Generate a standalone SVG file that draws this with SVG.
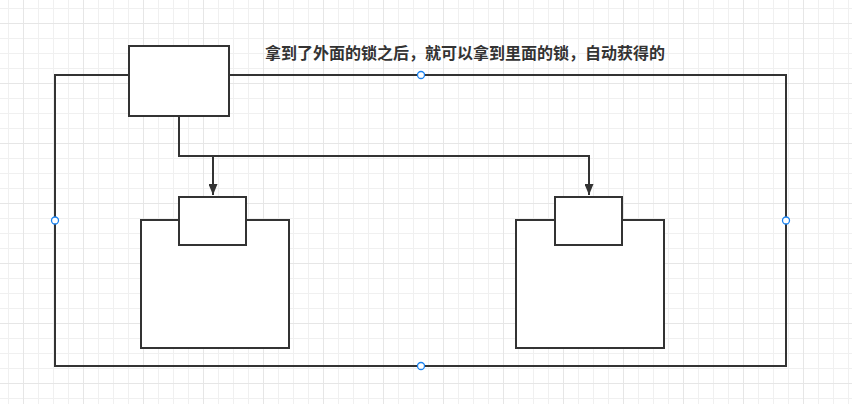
<svg xmlns="http://www.w3.org/2000/svg" width="852" height="404" viewBox="0 0 852 404">
<defs>
<pattern id="minor" x="8" y="8" width="15" height="15" patternUnits="userSpaceOnUse">
<path d="M0 0.5H15M0.5 0V15" fill="none" stroke="#f0f0f0" stroke-width="1"/>
</pattern>
<pattern id="major" x="23" y="23" width="60" height="60" patternUnits="userSpaceOnUse">
<path d="M0 0.5H60M0.5 0V60" fill="none" stroke="#e6e6e6" stroke-width="1"/>
</pattern>
<marker id="arrow" markerWidth="11" markerHeight="9" refX="11" refY="4.5" orient="auto" markerUnits="userSpaceOnUse" viewBox="0 0 11 9">
<path d="M0 0L11 4.5L0 9Z" fill="#333"/>
</marker>
</defs>
<style>
.box{fill:#fff;stroke:#333;stroke-width:2}
.frame{fill:none;stroke:#333;stroke-width:2}
.edge{fill:none;stroke:#333;stroke-width:2}
.handle{fill:#fff;stroke:#1a82f0;stroke-width:1.3}
.label{font-family:"Noto Sans CJK SC","Liberation Sans",sans-serif;font-size:16px;font-weight:bold;fill:#333}
</style>
<rect width="852" height="404" fill="#fff"/>
<rect width="852" height="404" fill="url(#minor)"/>
<rect width="852" height="404" fill="url(#major)"/>

<g id="outer">
<rect class="frame" x="55" y="75" width="731" height="291"/>
</g>

<g id="left-container">
<rect class="box" x="141" y="220" width="148" height="128"/>
</g>
<g id="left-lock">
<rect class="box" x="179" y="197" width="67" height="48"/>
</g>

<g id="right-container">
<rect class="box" x="516" y="220" width="148" height="128"/>
</g>
<g id="right-lock">
<rect class="box" x="555" y="197" width="67" height="48"/>
</g>

<g id="outer-lock">
<rect class="box" x="129" y="46" width="100" height="70"/>
</g>

<g id="connectors">
<path class="edge" d="M179 116V156H213V195" marker-end="url(#arrow)"/>
<path class="edge" d="M179 156H589V195" marker-end="url(#arrow)"/>
</g>

<g id="title">
<text class="label" x="465" y="59" text-anchor="middle">拿到了外面的锁之后，就可以拿到里面的锁，自动获得的</text>
</g>

<g id="handles">
<circle class="handle" cx="421" cy="75" r="3.5"/>
<circle class="handle" cx="55" cy="220.5" r="3.5"/>
<circle class="handle" cx="786" cy="220.5" r="3.5"/>
<circle class="handle" cx="421" cy="366" r="3.5"/>
</g>
</svg>
